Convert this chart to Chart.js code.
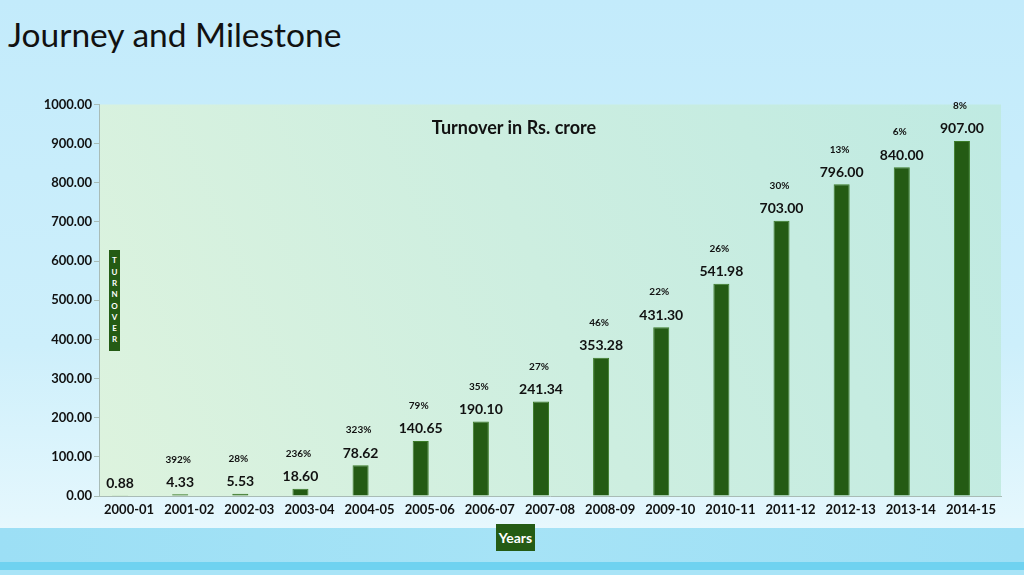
<!DOCTYPE html>
<html>
<head>
<meta charset="utf-8">
<script src="https://cdn.jsdelivr.net/npm/chart.js@4.4.1/dist/chart.umd.min.js"></script>
<style>
  html, body { margin: 0; padding: 0; }
  body {
    width: 1024px; height: 575px; overflow: hidden; position: relative;
    font-family: Lato, "Open Sans", sans-serif;
    background: linear-gradient(180deg, #c3ebfb 0%, #cdeffb 60%, #e4f7fd 90%, #e8f8fd 92%);
  }
  .band { position: absolute; left: 0; width: 1024px; }
  #band1 { top: 528px; height: 34px; background: linear-gradient(90deg, #9cdff5, #a6e3f6 50%, #9ddff5); }
  #band2 { top: 562px; height: 8px; background: #6fd2f0; }
  #band3 { top: 570px; height: 5px; background: #a9e4f7; }
  #title {
    position: absolute; left: 8px; top: 14px; font-size: 33.5px; color: #111;
    font-family: Lato, sans-serif; line-height: 40px;
  }
  #wrap { position: absolute; left: 0; top: 0; width: 1024px; height: 575px; }
  #chartTitle {
    position: absolute; left: 99px; width: 830px; top: 116px; text-align: center;
    font-weight: bold; font-size: 18px; color: #111;
  }
  #yBox {
    position: absolute; left: 109px; top: 250px; width: 11px; height: 101px;
    background: #245b14; color: #fff; font-weight: bold; font-size: 8px;
    display: flex; flex-direction: column; align-items: center; justify-content: center;
    line-height: 11.3px;
  }
  #xBox {
    position: absolute; left: 496px; top: 524px; width: 39px; height: 27px;
    background: #245b14; color: #fff; font-weight: bold; font-size: 14px;
    line-height: 27px; text-align: center;
  }
</style>
</head>
<body>
<div class="band" id="band1"></div>
<div class="band" id="band2"></div>
<div class="band" id="band3"></div>
<div id="title">Journey and Milestone</div>
<div id="wrap"><canvas id="turnoverChart" width="1024" height="575"></canvas></div>
<div id="chartTitle">Turnover in Rs. crore</div>
<div id="yBox"><span>T</span><span>U</span><span>R</span><span>N</span><span>O</span><span>V</span><span>E</span><span>R</span></div>
<div id="xBox">Years</div>
<script>
const years = ['2000-01', '2001-02', '2002-03', '2003-04', '2004-05', '2005-06', '2006-07', '2007-08',
  '2008-09', '2009-10', '2010-11', '2011-12', '2012-13', '2013-14', '2014-15'];
const turnover = [0.88, 4.33, 5.53, 18.60, 78.62, 140.65, 190.10, 241.34,
  353.28, 431.30, 541.98, 703.00, 796.00, 840.00, 907.00];
const growthPct = [null, 392, 28, 236, 323, 79, 35, 27, 46, 22, 26, 30, 13, 6, 8];
const yTicks = [0, 100, 200, 300, 400, 500, 600, 700, 800, 900, 1000];

const ctx = document.getElementById('turnoverChart').getContext('2d');

// light mint fill behind the plot area
const plotBg = {
  id: 'plotBg',
  beforeDraw(chart) {
    const a = chart.chartArea;
    const c = chart.ctx;
    const g = c.createLinearGradient(a.right, a.top, a.left, a.bottom);
    g.addColorStop(0, '#bfeae2');
    g.addColorStop(0.5, '#cdeee0');
    g.addColorStop(1, '#ddf3de');
    c.save();
    c.fillStyle = g;
    c.fillRect(a.left, a.top, a.right - a.left, a.bottom - a.top);
    c.restore();
  },
};

// value labels and growth % above each bar
const barLabels = {
  id: 'barLabels',
  afterDatasetsDraw(chart) {
    const c = chart.ctx;
    const meta = chart.getDatasetMeta(0);
    c.save();
    c.fillStyle = '#111';
    c.textAlign = 'center';
    c.textBaseline = 'middle';
    meta.data.forEach((bar, i) => {
      c.font = 'bold 14px Lato';
      c.fillText(turnover[i].toFixed(2), bar.x, bar.y - 12);
      if (growthPct[i] !== null) {
        c.font = 'bold 10px Lato';
        c.fillText(growthPct[i] + '%', bar.x - 2, bar.y - 35);
      }
    });
    c.restore();
  },
};

new Chart(ctx, {
  type: 'bar',
  data: {
    labels: years,
    datasets: [
      {
        data: turnover,
        backgroundColor: '#245b14',
        borderColor: '#3b7a27',
        borderWidth: 1,
        borderSkipped: 'bottom',
        barPercentage: 0.89,
        categoryPercentage: 0.6,
      },
      {
        // empty slot beside each bar, as in the original grouped chart
        data: years.map(() => null),
        backgroundColor: 'rgba(0,0,0,0)',
        barPercentage: 0.89,
        categoryPercentage: 0.6,
      },
    ],
  },
  options: {
    responsive: false,
    animation: false,
    layout: { padding: { left: 0, right: 23, top: 104.5, bottom: 0 } },
    plugins: {
      legend: { display: false },
      tooltip: { enabled: false },
    },
    scales: {
      x: {
        grid: { display: false, drawTicks: false },
        border: { color: '#a9bcb6', width: 1 },
        ticks: { color: '#111', font: { family: 'Lato', size: 13, weight: 'bold' }, padding: 6, maxRotation: 0, autoSkip: false },
        afterFit(s) { s.height = 79; },
      },
      y: {
        min: 0,
        max: 1000,
        afterBuildTicks(s) { s.ticks = yTicks.map(v => ({ value: v })); },
        grid: { drawOnChartArea: false, tickLength: 5, color: '#a9bcb6' },
        border: { color: '#a9bcb6', width: 1 },
        ticks: {
          color: '#111',
          font: { family: 'Lato', size: 13, weight: 'bold' },
          padding: 2,
          callback: v => v.toFixed(2),
        },
        afterFit(s) { s.width = 99; },
      },
    },
  },
  plugins: [plotBg, barLabels],
});
</script>
</body>
</html>
